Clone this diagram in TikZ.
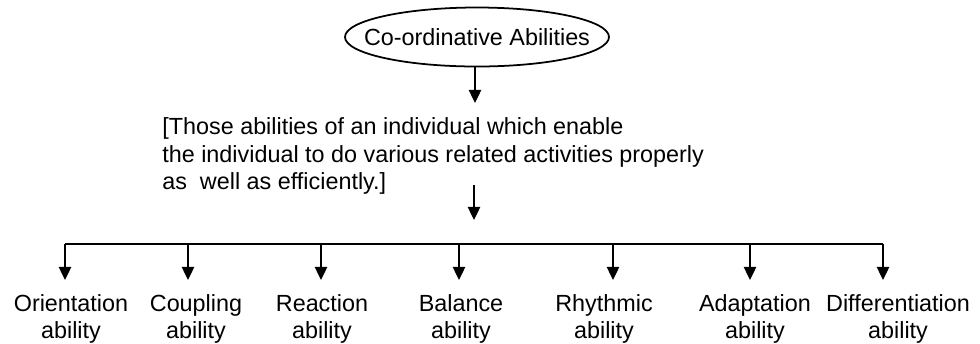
\documentclass[tikz,border=0pt]{standalone}
\usepackage{fontspec}
\setmainfont{Liberation Sans}
\usetikzlibrary{arrows.meta}
\begin{document}
\begin{tikzpicture}[x=0.02cm,y=-0.02cm,font=\fontsize{13.3}{15.5}\selectfont,line join=round,>={Triangle[width=7pt,length=7.5pt]}]
			\useasboundingbox (0,0) rectangle (980,343);
			
			\node[inner sep=0pt] (abil) at (477,37) {Co-ordinative Abilities};
			\draw[line width=1pt] (abil.center) ellipse [x radius=132, y radius=29.5];
			\node[anchor=west,align=left,inner sep=0pt] (defn) at (162,156) {[Those abilities of an individual which enable\\the individual to do various related activities properly\\as\ \ well as efficiently.]};
			
			\coordinate (E) at (475,66.5);
			\coordinate (A) at (475,103);
			\coordinate (B) at (474,185);
			\coordinate (C) at (474,220);
			\coordinate (L) at (65,244);
			\coordinate (R) at (883,244);
			
			\draw[->,line width=1.1pt] (E) -- (A);
			\draw[->,line width=1.1pt] (B) -- (C);
			\draw[line width=1.1pt] (L) -- (R);
			
			\foreach \x/\lx/\n/\t in {65/71/orient/Orientation,188/196/coupl/Coupling,321/322/react/Reaction,459/461/bal/Balance,613/604/rhythm/Rhythmic,750/755/adapt/Adaptation,883/898/diff/Differentiation}
			{
				\coordinate (d\n) at (\x,244);
				\coordinate (t\n) at (\x,280);
				\node[align=center,inner sep=0pt] (\n) at (\lx,319) {\t\\ability};
				\draw[->,line width=1.1pt] (d\n) -- (t\n);
			}
		\end{tikzpicture}
\end{document}
